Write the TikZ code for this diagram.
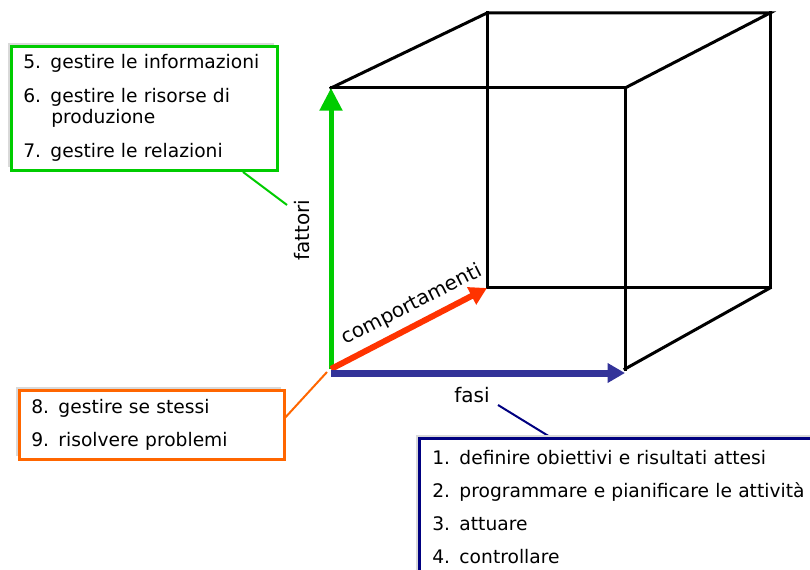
\documentclass[tikz,border=0pt]{standalone}
\usepackage{fontspec}
\setmainfont{DejaVu Sans}
\usetikzlibrary{arrows.meta,shadows}

\definecolor{fgreen}{HTML}{00CC00}
\definecolor{fred}{HTML}{FF3300}
\definecolor{fblue}{HTML}{333399}
\definecolor{forange}{HTML}{FF6600}
\definecolor{fnavy}{HTML}{000080}

\begin{document}
\begin{tikzpicture}[x=0.75pt, y=-0.75pt,
  edge/.style = {line width=2.25pt, line cap=rect},
  box/.style = {draw, line width=2pt, fill=white, anchor=north west, align=left,
    inner xsep=9pt, font=\fontsize{14}{15.75}\selectfont,
    drop shadow={shadow xshift=-2.25pt, shadow yshift=2.25pt, fill=black!15, opacity=1}},
  axis/.style = {font=\fontsize{15}{18}\selectfont, inner sep=0pt},
  link/.style = {line width=1.5pt}]
\useasboundingbox (0,0) rectangle (810,570);

% cube corners
\coordinate (fbl) at (331,369);
\coordinate (ftl) at (331,88);
\coordinate (ftr) at (625,88);
\coordinate (fbr) at (625,369);
\coordinate (btl) at (487,13);
\coordinate (btr) at (770,13);
\coordinate (bbl) at (487,288);
\coordinate (bbr) at (770,288);
\coordinate (bo) at (331,373);
\coordinate (bx) at (625,373);

% cube
\draw[edge] (ftl) -- (ftr) -- (fbr);
\draw[edge] (ftl) -- (btl) -- (btr) -- (ftr);
\draw[edge] (btl) -- (bbl) -- (bbr) -- (btr);
\draw[edge] (fbr) -- (bbr);

% axes
\draw[fgreen, line width=3.75pt, -{Triangle[width=16.5pt,length=17pt]}] (fbl) -- (ftl);
\draw[fred, line width=4.5pt, -{Triangle[width=14pt,length=13pt]}] (fbl) -- (bbl);
\draw[fblue, line width=5.25pt, -{Triangle[width=14pt,length=13pt]}] (bo) -- (bx);

\node[axis, rotate=90] (fattori) at (302,230) {fattori};
\node[axis, rotate=27] (comp) at (412,305) {comportamenti};
\node[axis] (fasi) at (472,395) {fasi};

% callouts
\coordinate (gtail) at (243,172);
\coordinate (ghead) at (287,205);
\coordinate (otail) at (327,372);
\coordinate (btail) at (498,405);
\coordinate (bhead) at (555,440);
\draw[link, fgreen] (gtail) -- (ghead);
\draw[link, forange] (283,420) -- (otail);
\draw[link, fnavy] (btail) -- (bhead);

\node[box, draw=fgreen, text width=181.5pt, minimum height=93pt] (gbox) at (10,45)
  {5. gestire le informazioni\\[9.75pt]
   6. gestire le risorse di\\
   \hspace*{21pt}produzione\\[9.75pt]
   7. gestire le relazioni};
\node[box, draw=forange, text width=180.75pt, minimum height=51.75pt] (obox) at (18,389)
  {8. gestire se stessi\\[9pt]
   9. risolvere problemi};
\node[box, draw=fnavy, inner xsep=9.75pt, text width=280.5pt, minimum height=102.75pt] (bbox) at (418,437)
  {1. definire obiettivi e risultati attesi\\[9pt]
   2. programmare e pianificare le attività\\[9pt]
   3. attuare\\[9pt]
   4. controllare};
\end{tikzpicture}
\end{document}
